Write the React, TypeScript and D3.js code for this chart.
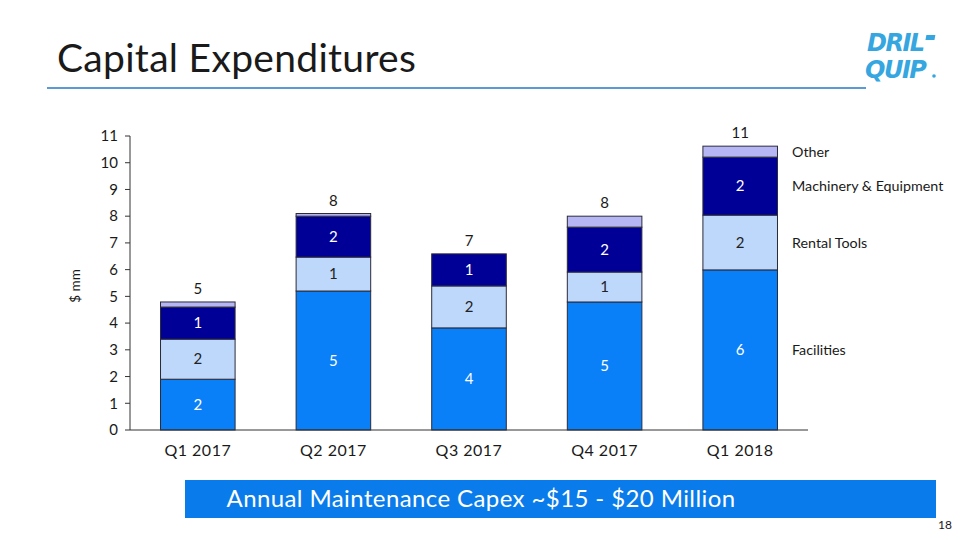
import React from "react";
import * as d3 from "d3";

const categories = ["Q1 2017", "Q2 2017", "Q3 2017", "Q4 2017", "Q1 2018"];
const facilities = [1.9, 5.2, 3.82, 4.79, 5.99];
const rentalTools = [1.5, 1.27, 1.57, 1.12, 2.05];
const machinery = [1.2, 1.53, 1.2, 1.68, 2.17];
const other = [0.19, 0.1, 0.0, 0.41, 0.41];
const facilitiesLabels = ["2", "5", "4", "5", "6"];
const rentalLabels = ["2", "1", "2", "1", "2"];
const machineryLabels = ["1", "2", "1", "2", "2"];
const totalLabels = ["5", "8", "7", "8", "11"];
const seriesNames = ["Facilities", "Rental Tools", "Machinery & Equipment", "Other"];
const yTicks = [0, 1, 2, 3, 4, 5, 6, 7, 8, 9, 10, 11];

const colors = ["#0A80F8", "#BED8FC", "#000096", "#B6B6F4"];
const FONT = "Lato, 'Open Sans', sans-serif";

export default function App() {
  const W = 960, H = 540;
  const x0 = 130, x1 = 808, yTop = 136, yBot = 430;
  const x = d3.scaleBand<string>().domain(categories).range([x0, x1]).paddingInner(0.45).paddingOuter(0.225);
  const y = d3.scaleLinear().domain([0, 11]).range([yBot, yTop]);

  const rows = categories.map((c, i) => ({
    cat: c,
    s0: facilities[i],
    s1: rentalTools[i],
    s2: machinery[i],
    s3: other[i],
  }));
  const stack = d3.stack<any>().keys(["s0", "s1", "s2", "s3"]);
  const stacked = stack(rows);
  const segLabels = [facilitiesLabels, rentalLabels, machineryLabels, null];
  const labelColors = ["#ffffff", "#222222", "#ffffff", "#222222"];

  const lastIdx = categories.length - 1;
  const legendX = 792;

  return (
    <svg width={W} height={H} style={{ position: "absolute", left: 0, top: 0, display: "block" }}>
      <rect x={0} y={0} width={W} height={H} fill="#ffffff" />
      {/* title */}
      <text x={57} y={72} fontFamily={FONT} fontSize={39} fill="#1a1a1a" style={{ letterSpacing: "0.3px" }}>Capital Expenditures</text>
      <line x1={47} x2={866} y1={88} y2={88} stroke="#5B9BD5" strokeWidth={2} />
      {/* logo */}
      <g fontFamily="'DejaVu Sans', sans-serif" fontWeight="bold" fontStyle="italic" fill="#35A6E0">
        <text x={867} y={51} fontSize={24} style={{ letterSpacing: "-1.5px" }}>DRIL</text>
        <rect x={926} y={35} width={9} height={5} transform="skewX(-10)" transform-origin="930 37" />
        <text x={865} y={78} fontSize={24} style={{ letterSpacing: "-1.5px" }}>QUIP</text>
        <circle cx={934} cy={76} r={1.8} />
      </g>
      {/* y axis */}
      <line x1={x0} x2={x0} y1={yTop} y2={yBot} stroke="#333" strokeWidth={1} />
      {yTicks.map((t) => (
        <g key={t}>
          <line x1={x0 - 5} x2={x0} y1={y(t)} y2={y(t)} stroke="#333" />
          <text x={x0 - 12} y={y(t)} dy="0.35em" textAnchor="end" fontFamily={FONT} fontSize={15} fill="#1a1a1a">{t}</text>
        </g>
      ))}
      <text transform={`translate(80, ${(yTop + yBot) / 2 + 3}) rotate(-90)`} textAnchor="middle" fontFamily={FONT} fontSize={13.5} fill="#1a1a1a">$ mm</text>
      {/* bars */}
      {stacked.map((layer, li) => (
        <g key={li}>
          {layer.map((d, i) => {
            const h = y(d[0]) - y(d[1]);
            if (h <= 0) return null;
            return (
              <rect key={i} x={x(categories[i])} y={y(d[1])} width={x.bandwidth()} height={h}
                fill={colors[li]} stroke="#2b2b3a" strokeWidth={1} />
            );
          })}
          {segLabels[li] && layer.map((d, i) => (
            <text key={"l" + i} x={(x(categories[i]) as number) + x.bandwidth() / 2} y={(y(d[0]) + y(d[1])) / 2}
              dy="0.35em" textAnchor="middle" fontFamily={FONT} fontSize={15} fill={labelColors[li]}>
              {(segLabels[li] as string[])[i]}
            </text>
          ))}
        </g>
      ))}
      {/* totals */}
      {rows.map((r, i) => {
        const tot = r.s0 + r.s1 + r.s2 + r.s3;
        return (
          <text key={i} x={(x(r.cat) as number) + x.bandwidth() / 2} y={y(tot) - 8} textAnchor="middle"
            fontFamily={FONT} fontSize={15} fill="#1a1a1a">{totalLabels[i]}</text>
        );
      })}
      {/* x axis */}
      <line x1={x0} x2={x1} y1={yBot} y2={yBot} stroke="#333" strokeWidth={1} />
      {categories.map((c) => (
        <text key={c} x={(x(c) as number) + x.bandwidth() / 2} y={yBot + 20} dy="0.35em" textAnchor="middle"
          fontFamily={FONT} fontSize={16} fill="#1a1a1a" style={{ letterSpacing: "0.5px" }}>{c}</text>
      ))}
      {/* legend aligned with last bar segments */}
      {stacked.map((layer, li) => {
        const d = layer[lastIdx];
        const cy = li === 3 ? y(d[1]) + 6 : (y(d[0]) + y(d[1])) / 2;
        return (
          <text key={"lg" + li} x={legendX} y={cy} dy="0.35em" fontFamily={FONT} fontSize={14.3} fill="#1a1a1a">{seriesNames[li]}</text>
        );
      })}
      {/* banner */}
      <rect x={185} y={480} width={751} height={38} fill="#0A7BEA" />
      <text x={481} y={499} dy="0.35em" textAnchor="middle" fontFamily={FONT} fontSize={24} fill="#ffffff" style={{ letterSpacing: "0.4px" }}>Annual Maintenance Capex ~$15 - $20 Million</text>
      <text x={945} y={529} textAnchor="middle" fontFamily={FONT} fontSize={12} fill="#1a1a1a">18</text>
    </svg>
  );
}
